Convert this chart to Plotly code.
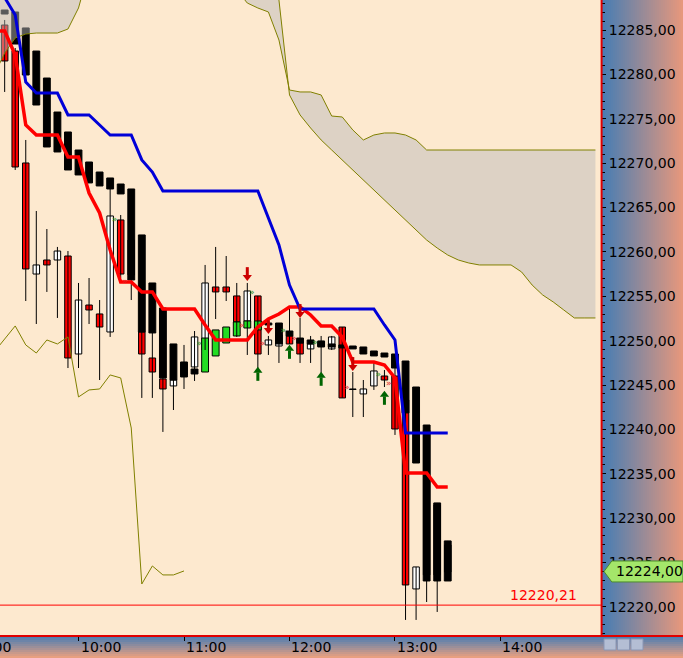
import pandas as pd
import plotly.graph_objects as go

# 6 minute bars, 09:12 .. 14:54 (cloud runs ahead of price)
t = pd.date_range("2024-03-15 09:12", periods=58, freq="6min")
ct = t[1:44]  # candles 09:18 .. 13:30

c_open = [12285.56, 12282.63, 12270.02, 12257.51, 12259.09, 12259.09, 12259.54, 12248.50, 12254.02, 12253.01,
          12250.98, 12263.60, 12261.34, 12250.98, 12248.05, 12245.69, 12244.90, 12247.38, 12247.04, 12248.95,
          12256.05, 12256.05, 12255.04, 12252.22, 12255.04, 12249.52, 12249.40, 12250.53, 12249.74, 12249.07,
          12249.85, 12249.07, 12251.54, 12244.56, 12244.00, 12244.90, 12246.02, 12246.02, 12243.32, 12222.03,
          12239.94, 12231.49, 12226.99]
c_high = [12286.13, 12282.97, 12272.61, 12264.61, 12262.58, 12260.56, 12260.10, 12256.50, 12257.06, 12254.58,
          12267.54, 12264.16, 12265.85, 12254.58, 12251.21, 12248.95, 12248.95, 12249.52, 12251.09, 12258.53,
          12260.56, 12259.54, 12256.50, 12256.50, 12255.04, 12250.53, 12251.77, 12253.68, 12252.56, 12250.53,
          12250.53, 12250.53, 12251.54, 12246.47, 12245.57, 12247.60, 12246.70, 12246.92, 12243.32, 12224.51,
          12240.50, 12231.72, 12227.44]
c_low = [12278.02, 12269.23, 12254.47, 12251.88, 12255.49, 12252.56, 12246.92, 12246.92, 12251.88, 12245.57,
         12250.42, 12257.06, 12254.58, 12243.55, 12243.55, 12239.72, 12242.19, 12244.56, 12245.46, 12248.95,
         12252.44, 12254.47, 12250.42, 12248.39, 12246.92, 12248.39, 12247.49, 12249.63, 12247.49, 12247.49,
         12246.36, 12248.95, 12243.55, 12241.40, 12241.40, 12244.45, 12244.78, 12239.38, 12218.54, 12218.54,
         12220.56, 12219.44, 12223.94]
c_close = [12281.51, 12269.57, 12258.08, 12258.53, 12258.53, 12260.10, 12248.05, 12254.58, 12253.46, 12251.54,
           12264.05, 12257.51, 12257.40, 12248.50, 12246.47, 12244.56, 12245.57, 12246.14, 12250.42, 12256.50,
           12255.49, 12255.49, 12252.11, 12255.60, 12248.50, 12250.08, 12250.64, 12249.63, 12248.50, 12249.63,
           12249.40, 12250.42, 12243.55, 12244.50, 12244.56, 12246.59, 12245.57, 12240.05, 12222.48, 12224.51,
           12223.61, 12223.61, 12223.94]

# heikin ashi bodies (black = down, green = up)
ha_open = [12287.25, 12287.03, 12285.23, 12282.63, 12279.59, 12275.76, 12273.51, 12271.48, 12270.13, 12269.00,
           12268.33, 12267.65, 12267.09, 12261.91, 12256.50, 12253.68, 12249.63, 12247.60, 12246.81, 12246.47,
           12248.28, 12249.74, 12250.53, 12251.43, 12251.21, 12251.99, 12251.99, 12251.09, 12250.30, 12250.08,
           12249.97, 12249.63, 12249.52, 12249.40, 12249.29, 12248.84, 12248.61, 12248.50, 12247.71, 12244.78,
           12240.50, 12231.72, 12227.44]
ha_close = [12286.80, 12283.42, 12279.93, 12276.55, 12271.82, 12271.26, 12269.23, 12268.67, 12267.77, 12267.43,
            12267.09, 12266.53, 12256.84, 12250.98, 12250.87, 12245.80, 12245.57, 12245.91, 12246.25, 12250.30,
            12251.21, 12251.54, 12252.11, 12252.22, 12252.22, 12251.77, 12249.63, 12250.53, 12249.74, 12249.63,
            12249.29, 12249.29, 12249.18, 12249.07, 12248.50, 12248.28, 12248.16, 12246.92, 12241.86, 12236.22,
            12222.93, 12222.93, 12222.93]

# red and blue lines, 09:12 .. 13:30
tenkan = [12284.89, 12284.89, 12282.18, 12274.30, 12273.17, 12273.17, 12273.17, 12270.69, 12270.69, 12266.64,
          12264.39, 12260.22, 12256.61, 12256.61, 12255.49, 12255.49, 12253.57, 12253.57, 12253.57, 12253.57,
          12251.77, 12250.08, 12250.08, 12250.08, 12250.08, 12251.54, 12252.44, 12253.01, 12253.80, 12253.80,
          12252.90, 12251.66, 12251.66, 12250.42, 12247.60, 12247.60, 12247.60, 12247.26, 12245.80, 12235.10,
          12235.10, 12235.10, 12233.52, 12233.52]
kijun = [12290.63, 12288.72, 12286.69, 12279.14, 12277.90, 12277.90, 12277.90, 12275.43, 12275.43, 12275.43,
         12274.30, 12273.17, 12273.17, 12273.17, 12270.36, 12269.00, 12266.86, 12266.86, 12266.86, 12266.86,
         12266.86, 12266.86, 12266.86, 12266.86, 12266.86, 12266.86, 12263.82, 12260.78, 12256.27, 12253.57,
         12253.57, 12253.57, 12253.57, 12253.57, 12253.57, 12253.57, 12253.57, 12251.77, 12250.08, 12239.60,
         12239.60, 12239.60, 12239.60, 12239.60]

# lagging line, 09:12 .. 11:00
chikou = [12248.72, 12250.19, 12251.66, 12249.52, 12248.61, 12250.08, 12249.63, 12250.42, 12243.66, 12244.45,
          12244.56, 12246.14, 12245.80, 12240.16, 12222.59, 12224.62, 12223.61, 12223.61, 12224.06]

# cloud edges, 09:12 .. 14:54
span_1 = [12279.93, 12282.41, 12284.10, 12284.55, 12284.66, 12284.66, 12284.66, 12285.11, 12287.48, 12291.76,
          12292.89, 12292.89, 12292.89, 12292.89, 12292.89, 12292.89, 12292.89, 12292.89, 12292.89, 12292.89,
          12292.89, 12292.89, 12292.89, 12289.51, 12288.04, 12287.48, 12287.03, 12283.87, 12278.24, 12278.02,
          12278.02, 12277.68, 12275.31, 12275.20, 12273.74, 12272.61, 12273.17, 12273.40, 12273.40, 12273.17,
          12272.61, 12271.48, 12271.48, 12271.48, 12271.48, 12271.48, 12271.48, 12271.48, 12271.48, 12271.48,
          12271.48, 12271.48, 12271.48, 12271.48, 12271.48, 12271.48, 12271.48, 12271.48]
span_2 = [12296.27] * 26 + [
          12292.89, 12288.38, 12277.68, 12275.43, 12273.96, 12272.61, 12271.48, 12270.36, 12269.23, 12268.10,
          12266.98, 12265.85, 12264.72, 12263.60, 12262.47, 12261.34, 12260.44, 12259.65, 12259.09, 12258.75,
          12258.53, 12258.53, 12258.53, 12258.53, 12257.74, 12256.27, 12255.15, 12254.36, 12253.46, 12252.56,
          12252.56, 12252.56]

# signal arrows (candle index from 09:18)
up_idx = [24, 27, 30, 36]
up_price = [12246.25, 12248.73, 12245.69, 12243.55]
dn_idx = [23, 25, 28, 33]
dn_price = [12257.51, 12251.54, 12253.35, 12247.38]
grn_idx = [10, 18, 23, 26, 29, 35]
grn_price = [12263.60, 12249.63, 12255.37, 12251.09, 12249.74, 12246.14]
red_idx = [11, 22, 24, 27, 32, 36]
red_price = [12256.61, 12251.66, 12249.63, 12250.19, 12244.67, 12245.13]

last_price = 12224.00
ref_price = 12220.21
hours = ["09:00", "10:00", "11:00", "12:00", "13:00", "14:00"]

x0 = pd.Timestamp("2024-03-15 09:15:21")
x1 = pd.Timestamp("2024-03-15 14:57:10")
y0, y1 = 12216.73, 12288.38

fig = go.Figure()

# wicks
wx, wy = [], []
for x, lo, hi in zip(ct, c_low, c_high):
    wx += [x, x, None]
    wy += [lo, hi, None]
fig.add_trace(go.Scatter(x=wx, y=wy, mode="lines", line=dict(color="black", width=1), hoverinfo="skip"))

# candle bodies
body_col = ["white" if c > o else "#ff0000" for o, c in zip(c_open, c_close)]
fig.add_trace(go.Bar(x=ct, base=[min(o, c) for o, c in zip(c_open, c_close)],
                     y=[abs(c - o) for o, c in zip(c_open, c_close)], width=3.7 * 60000,
                     marker=dict(color=body_col, line=dict(color="black", width=1))))

# HA boxes
ha_col = ["#22dd22" if c > o else "black" for o, c in zip(ha_open, ha_close)]
fig.add_trace(go.Bar(x=ct, base=[min(o, c) for o, c in zip(ha_open, ha_close)],
                     y=[abs(c - o) for o, c in zip(ha_open, ha_close)], width=3.9 * 60000,
                     marker=dict(color=ha_col, line=dict(color="black", width=1))))

# cloud
fig.add_trace(go.Scatter(x=t, y=span_2, mode="lines", line=dict(color="#808000", width=1)))
fig.add_trace(go.Scatter(x=t, y=span_1, mode="lines", line=dict(color="#808000", width=1),
                         fill="tonexty", fillcolor="rgba(185,185,185,0.48)"))
fig.add_trace(go.Scatter(x=t[:19], y=chikou, mode="lines", line=dict(color="#808000", width=1)))

fig.add_trace(go.Scatter(x=t[:44], y=tenkan, mode="lines", line=dict(color="#ff0000", width=3.5)))
fig.add_trace(go.Scatter(x=t[:44], y=kijun, mode="lines", line=dict(color="#0000d8", width=3)))

# arrows
ux = [ct[i] for i in up_idx]
dx = [ct[i] for i in dn_idx]
fig.add_trace(go.Scatter(x=ux, y=[p + 0.35 for p in up_price], mode="markers",
                         marker=dict(symbol="triangle-up", size=8, color="#006400")))
fig.add_trace(go.Scatter(x=ux, y=[p - 0.3 for p in up_price], mode="markers",
                         marker=dict(symbol="line-ns", size=6, line=dict(color="#006400", width=3))))
fig.add_trace(go.Scatter(x=dx, y=[p - 0.35 for p in dn_price], mode="markers",
                         marker=dict(symbol="triangle-down", size=8, color="#cc0000")))
fig.add_trace(go.Scatter(x=dx, y=[p + 0.3 for p in dn_price], mode="markers",
                         marker=dict(symbol="line-ns", size=6, line=dict(color="#cc0000", width=3))))

shift = pd.Timedelta(minutes=2.5)
fig.add_trace(go.Scatter(x=[ct[i] + shift for i in grn_idx], y=grn_price, mode="text", text=["»"] * len(grn_idx),
                         textfont=dict(size=9, color="#1e8c1e")))
fig.add_trace(go.Scatter(x=[ct[i] + shift for i in red_idx], y=red_price, mode="text", text=["»"] * len(red_idx),
                         textfont=dict(size=9, color="#e02020")))

# gradient panels
shapes = []
right_w = 683 / 601
n = 41
for i in range(n):
    f = i / (n - 1)
    col = "rgb(%d,%d,%d)" % (70 + f * 160, 125 + f * 27, 180 - f * 55)
    shapes.append(dict(type="rect", xref="paper", yref="paper", layer="below",
                       x0=1 + (right_w - 1) * i / n, x1=1 + (right_w - 1) * (i + 1) / n + 0.002,
                       y0=0, y1=1, line=dict(width=0), fillcolor=col))
bh = 22 / 636
m = 11
for i in range(m):
    f = i / (m - 1)
    col = "rgb(%d,%d,%d)" % (78 + f * 154, 126 + f * 34, 178 - f * 50)
    shapes.append(dict(type="rect", xref="paper", yref="paper", layer="below",
                       x0=0, x1=right_w, y0=-bh * i / m, y1=-bh * (i + 1) / m - 0.001,
                       line=dict(width=0), fillcolor=col))

shapes.append(dict(type="line", xref="paper", yref="paper", x0=1.001, x1=1.001, y0=0, y1=1,
                   line=dict(color="#e00000", width=2)))
shapes.append(dict(type="line", xref="paper", yref="paper", x0=0, x1=right_w, y0=0, y1=0,
                   line=dict(color="#e00000", width=2)))
shapes.append(dict(type="line", xref="paper", yref="y", x0=0, x1=1, y0=ref_price, y1=ref_price,
                   line=dict(color="#ff0000", width=1)))
# last price tag
hh = 1.18
shapes.append(dict(type="path", xref="paper", yref="y", layer="above",
                   path="M 1.005,%f L 1.018,%f L %f,%f L %f,%f L 1.018,%f Z" % (
                       last_price, last_price + hh, right_w, last_price + hh, right_w, last_price - hh,
                       last_price - hh),
                   fillcolor="#a4e66a", line=dict(color="#4c8c2c", width=1)))
for j in range(3):
    shapes.append(dict(type="rect", xref="paper", yref="paper", layer="above",
                       x0=(604 + 13.5 * j) / 601, x1=(616 + 13.5 * j) / 601,
                       y0=-14 / 636, y1=-3 / 636, fillcolor="#b4bed4", line=dict(color="#8a96b4", width=1)))

annotations = [dict(text="12220,21", xref="paper", x=579 / 601, xanchor="right", yref="y", y=ref_price,
                    yanchor="bottom", showarrow=False, font=dict(color="#ff0000", size=14)),
               dict(text="12224,00", xref="paper", x=614 / 601, xanchor="left", yref="y", y=last_price,
                    yanchor="middle", showarrow=False, font=dict(color="black", size=14))]
for h in hours:
    ts = pd.Timestamp("2024-03-15 " + h)
    fx = (ts - x0) / (x1 - x0)
    annotations.append(dict(text=h.lstrip("0"), xref="paper", x=fx, xanchor="center", xshift=22,
                            yref="paper", y=-11 / 636, yanchor="middle", showarrow=False,
                            font=dict(color="black", size=14)))

fig.update_layout(
    width=683, height=658, margin=dict(l=0, r=82, t=0, b=22, pad=0),
    plot_bgcolor="#fde9cf", paper_bgcolor="#fde9cf", showlegend=False,
    barmode="overlay", separators=",.",
    font=dict(family="DejaVu Sans", size=14, color="black"),
    shapes=shapes, annotations=annotations,
    xaxis=dict(type="date", range=[x0, x1], showgrid=False, zeroline=False, showline=False,
               ticks="outside", ticklen=4, tickcolor="black",
               tickvals=[pd.Timestamp("2024-03-15 " + h) for h in hours], showticklabels=False),
    yaxis=dict(side="right", range=[y0, y1], tick0=0, dtick=5, tickformat=".2f",
               ticks="outside", ticklen=4, tickcolor="black", showgrid=False, zeroline=False,
               showline=False, tickfont=dict(size=14, color="black"),
               minor=dict(dtick=1, ticks="outside", ticklen=3, tickcolor="black")),
)

fig.write_html("out.html", config={"displayModeBar": False},
               post_script="document.body.style.margin='0';document.body.style.overflow='hidden';")
